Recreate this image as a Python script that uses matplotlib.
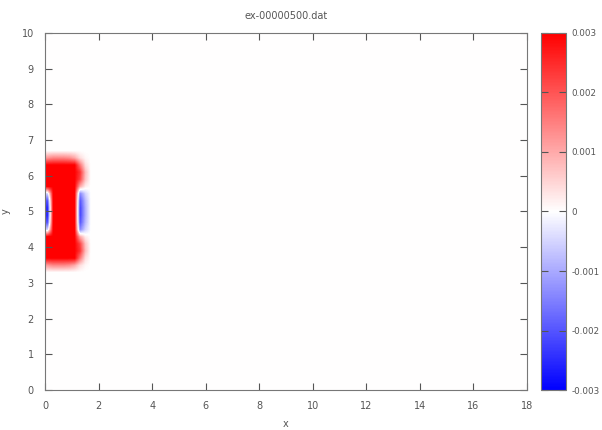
#!/usr/bin/env python3

import numpy as np
import matplotlib.pyplot as plt

# field values near the source (units of 1e-3), cells 0.2 x 0.2
x_edges = (0.0, 2.0)
y_edges = (3.2, 6.8)
field = np.array([
    # x: 0.1  0.3  0.5  0.5  0.9  1.1  1.3  1.5  1.7  1.9
    [0.0, 0.0, 0.0, 0.0, 0.0, 0.0, 0.0, 0.0, 0.0, 0.0],   # y 3.3
    [1.2, 1.4, 1.4, 1.4, 1.3, 1.0, 0.4, 0.1, 0.0, 0.0],   # y 3.5
    [3.0, 3.0, 3.0, 3.0, 3.0, 3.0, 1.6, 0.4, 0.0, 0.0],   # y 3.7
    [3.0, 3.0, 3.0, 3.0, 3.0, 3.0, 2.4, 0.8, 0.0, 0.0],   # y 3.9
    [3.0, 3.0, 3.0, 3.0, 3.0, 3.0, 2.2, 0.7, 0.0, 0.0],   # y 4.1
    [3.0, 3.0, 3.0, 3.0, 3.0, 3.0, 1.0, 0.2, 0.0, 0.0],   # y 4.3
    [-0.5, 3.0, 3.0, 3.0, 3.0, 3.0, -1.4, -0.5, 0.0, 0.0], # y 4.5
    [-2.0, 3.0, 3.0, 3.0, 3.0, 3.0, -2.0, -0.8, 0.0, 0.0],  # y 4.7
    [-2.5, 3.0, 3.0, 3.0, 3.0, 3.0, -2.2, -0.9, 0.0, 0.0],  # y 4.9
    [-2.5, 3.0, 3.0, 3.0, 3.0, 3.0, -2.2, -0.9, 0.0, 0.0],  # y 5.1
    [-2.0, 3.0, 3.0, 3.0, 3.0, 3.0, -2.0, -0.8, 0.0, 0.0],  # y 5.3
    [-0.5, 3.0, 3.0, 3.0, 3.0, 3.0, -1.4, -0.5, 0.0, 0.0], # y 5.5
    [3.0, 3.0, 3.0, 3.0, 3.0, 3.0, 1.0, 0.2, 0.0, 0.0],   # y 5.7
    [3.0, 3.0, 3.0, 3.0, 3.0, 3.0, 2.2, 0.7, 0.0, 0.0],   # y 5.9
    [3.0, 3.0, 3.0, 3.0, 3.0, 3.0, 2.4, 0.8, 0.0, 0.0],   # y 6.1
    [3.0, 3.0, 3.0, 3.0, 3.0, 3.0, 1.6, 0.4, 0.0, 0.0],   # y 6.3
    [1.2, 1.4, 1.4, 1.4, 1.3, 1.0, 0.4, 0.1, 0.0, 0.0],   # y 6.5
    [0.0, 0.0, 0.0, 0.0, 0.0, 0.0, 0.0, 0.0, 0.0, 0.0],   # y 6.7
]) * 1e-3

x_ticks = np.arange(0, 19, 2)
y_ticks = np.arange(0, 11, 1)
cb_ticks = [-0.003, -0.002, -0.001, 0, 0.001, 0.002, 0.003]
cb_labels = ["-0.003", "-0.002", "-0.001", "0", "0.001", "0.002", "0.003"]

gray = "#555555"
plt.rcParams["font.size"] = 7
plt.rcParams["text.color"] = gray
plt.rcParams["axes.labelcolor"] = gray

fig = plt.figure(figsize=(6.02, 4.30), dpi=100)
ax = fig.add_axes([0.0748, 0.093, 0.8006, 0.8303])
cax = fig.add_axes([0.8987, 0.093, 0.0415, 0.8303])

cmap = plt.get_cmap("bwr")
ax.set_facecolor(cmap(0.5))
im = ax.imshow(field, origin="lower", cmap=cmap, vmin=-0.003, vmax=0.003,
               extent=[x_edges[0], x_edges[1], y_edges[0], y_edges[1]],
               interpolation="bilinear", aspect="auto")
ax.set_xlim(0, 18)
ax.set_ylim(0, 10)
ax.set_aspect("auto")
ax.set_xticks(x_ticks)
ax.set_yticks(y_ticks)
ax.tick_params(direction="in", top=True, right=True, length=5, width=0.8,
               colors=gray, labelcolor=gray, pad=8)
for s in ax.spines.values():
    s.set_color("#777777")
ax.set_xlabel("x", labelpad=6)
ax.set_ylabel("y", labelpad=8)
ax.set_title("ex-00000500.dat", fontsize=7, color=gray, pad=10)

cb = fig.colorbar(im, cax=cax)
cb.set_ticks(cb_ticks)
cb.set_ticklabels(cb_labels)
cax.tick_params(direction="in", left=True, right=True, length=5, width=0.8,
                colors=gray, labelcolor=gray, pad=4, labelsize=6.3)
cb.outline.set_edgecolor("#777777")

fig.savefig("out.png", dpi=100)
